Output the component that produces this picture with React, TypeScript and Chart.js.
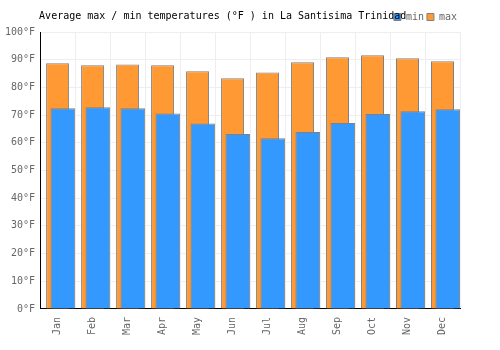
import React, { useEffect, useRef } from "react";
import { Chart, registerables } from "chart.js";

Chart.register(...registerables);

const TITLE = "Average max / min temperatures (°F ) in La Santisima Trinidad";
const MONTHS = ["Jan", "Feb", "Mar", "Apr", "May", "Jun", "Jul", "Aug", "Sep", "Oct", "Nov", "Dec"];
const MAX_TEMPS = [88.7, 88.0, 88.3, 88.0, 85.8, 83.3, 85.4, 89.1, 90.9, 91.6, 90.5, 89.4];
const MIN_TEMPS = [72.5, 72.8, 72.5, 70.6, 67.0, 63.2, 61.6, 63.9, 67.1, 70.4, 71.4, 72.1];
const Y_TICK_SUFFIX = "°F";

const FONT = "'DejaVu Sans Mono', monospace";

const titlePlugin = {
  id: "customTitle",
  afterDraw(chart: any) {
    const ctx = chart.ctx;
    ctx.save();
    ctx.font = `10px ${FONT}`;
    ctx.fillStyle = "#000";
    ctx.textBaseline = "middle";
    ctx.textAlign = "left";
    ctx.fillText(TITLE, chart.chartArea.left - 1, 16);
    ctx.restore();
  },
};

export default function App() {
  const ref = useRef<HTMLCanvasElement>(null);
  useEffect(() => {
    if (!ref.current) return;
    const chart = new Chart(ref.current, {
      type: "bar",
      data: {
        labels: MONTHS,
        datasets: [
          {
            label: "min",
            data: MIN_TEMPS.map((y, i) => ({ x: i, y })) as any,
            xAxisID: "x2",
            grouped: false,
            backgroundColor: "#3399ff",
            borderColor: "#808080",
            borderWidth: 1,
            barPercentage: 0.705,
            categoryPercentage: 1,
          },
          {
            label: "max",
            data: MAX_TEMPS,
            xAxisID: "x",
            grouped: false,
            backgroundColor: "#ff9933",
            borderColor: "#808080",
            borderWidth: 1,
            barPercentage: 0.657,
            categoryPercentage: 1,
          },
        ],
      },
      options: {
        animation: false,
        responsive: true,
        maintainAspectRatio: false,
        layout: { padding: { top: 9, right: 40, left: 0, bottom: 7 } },
        plugins: {
          title: { display: false },
          tooltip: { enabled: false },
          legend: {
            position: "top",
            align: "end",
            labels: {
              boxWidth: 7,
              boxHeight: 7,
              padding: 3,
              color: "#666",
              font: { family: FONT, size: 10 },
            },
          },
        },
        scales: {
          x: {
            type: "category",
            offset: true,
            grid: { color: "#eeeeee", offset: true, drawTicks: false },
            border: { color: "#000", width: 1 },
            ticks: {
              color: "#666",
              font: { family: FONT, size: 10 },
              minRotation: 90,
              maxRotation: 90,
              padding: 8,
            },
          },
          x2: {
            type: "linear",
            display: false,
            offset: false,
            min: -0.65,
            max: 11.35,
            grid: { offset: false },
            ticks: { stepSize: 1, includeBounds: false },
          },
          y: {
            min: 0,
            max: 100,
            grid: { color: "#eeeeee", drawTicks: false },
            border: { color: "#000", width: 1 },
            ticks: {
              stepSize: 10,
              color: "#666",
              padding: 5,
              font: { family: FONT, size: 10 },
              callback: (v: any) => `${v}${Y_TICK_SUFFIX}`,
            },
          },
        },
      },
      plugins: [titlePlugin],
    });
    return () => chart.destroy();
  }, []);
  return (
    <div style={{ position: "absolute", left: 0, top: 0, width: 500, height: 350 }}>
      <canvas ref={ref} />
    </div>
  );
}
